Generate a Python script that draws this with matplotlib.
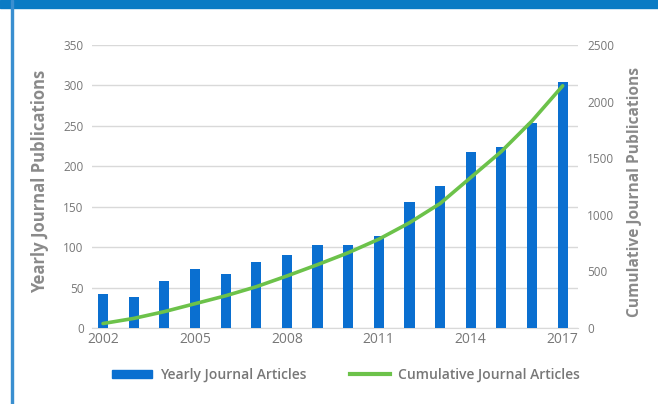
import matplotlib
matplotlib.use("Agg")
import matplotlib.pyplot as plt
from matplotlib.patches import Rectangle
from matplotlib.lines import Line2D
from matplotlib.patches import Patch

plt.rcParams['font.family'] = ['Open Sans', 'DejaVu Sans']

years = list(range(2002, 2018))
yearly = [42, 39, 58, 73, 67, 82, 90, 103, 103, 114, 156, 176, 218, 224, 254, 304]
cumulative = [40, 85, 145, 215, 285, 365, 460, 560, 665, 785, 930, 1100, 1330, 1560, 1830, 2140]
xtick_labels = [2002, 2005, 2008, 2011, 2014, 2017]
left_ticks = [0, 50, 100, 150, 200, 250, 300, 350]
right_ticks = [0, 500, 1000, 1500, 2000, 2500]

bar_color = '#0a6fd0'
line_color = '#6cc24a'
tick_color = '#777777'
label_color = '#8a8a8a'
grid_color = '#d9d9d9'

fig = plt.figure(figsize=(6.58, 4.04), dpi=100)
fig.patch.set_facecolor('white')

# top band and left border
fig.add_artist(Rectangle((0, 1 - 8/404), 1, 8/404, transform=fig.transFigure,
                         color='#0a7bc4', zorder=0))
fig.add_artist(Rectangle((11/658, 0), 1.5/658, 1, transform=fig.transFigure,
                         color='#3a8fd0', zorder=0))

ax = fig.add_axes([0.1398, 0.188, 0.7386, 0.7005])
ax.bar(years, yearly, width=0.33, color=bar_color, zorder=3)
ax.set_ylim(0, 350)
ax.set_xlim(2001.64, 2017.5)
ax.set_yticks(left_ticks)
ax.yaxis.grid(True, color=grid_color, linewidth=1)
ax.set_axisbelow(True)
for s in ax.spines.values():
    s.set_visible(False)
ax.spines['bottom'].set_visible(True)
ax.spines['bottom'].set_color(grid_color)
ax.set_xticks(xtick_labels)
ax.set_xticklabels([str(v) for v in xtick_labels], fontsize=10, color=tick_color)
ax.tick_params(axis='x', length=0, pad=3)
ax.tick_params(axis='y', length=0, labelsize=8.5, labelcolor=tick_color, pad=6)
ax.set_ylabel('Yearly Journal Publications', fontsize=12, fontweight='bold',
              color=label_color)
ax.yaxis.set_label_coords(-0.089, 0.518)

ax2 = ax.twinx()
ax2.plot(years, cumulative, color=line_color, linewidth=2.6, zorder=4,
         solid_capstyle='round')
ax2.set_ylim(0, 2500)
ax2.set_yticks(right_ticks)
for s in ax2.spines.values():
    s.set_visible(False)
ax2.tick_params(axis='y', length=0, labelsize=8.5, labelcolor=tick_color, pad=6.5)
ax2.set_ylabel('Cumulative Journal Publications', fontsize=11.2, fontweight='bold',
               color=label_color)
ax2.yaxis.set_label_coords(1.101, 0.482)

handles = [Patch(facecolor=bar_color, edgecolor=bar_color),
           Line2D([0], [0], color=line_color, linewidth=3)]
leg = fig.legend(handles, ['Yearly Journal Articles', 'Cumulative Journal Articles'],
                 loc='center', bbox_to_anchor=(0.526, 1 - 375/404), ncol=2,
                 frameon=False, handlelength=2.9, handleheight=0.6,
                 columnspacing=3.1, handletextpad=0.58,
                 prop={'size': 10, 'weight': 'semibold'})
for t in leg.get_texts():
    t.set_color(tick_color)

fig.savefig('out.png', dpi=100)
